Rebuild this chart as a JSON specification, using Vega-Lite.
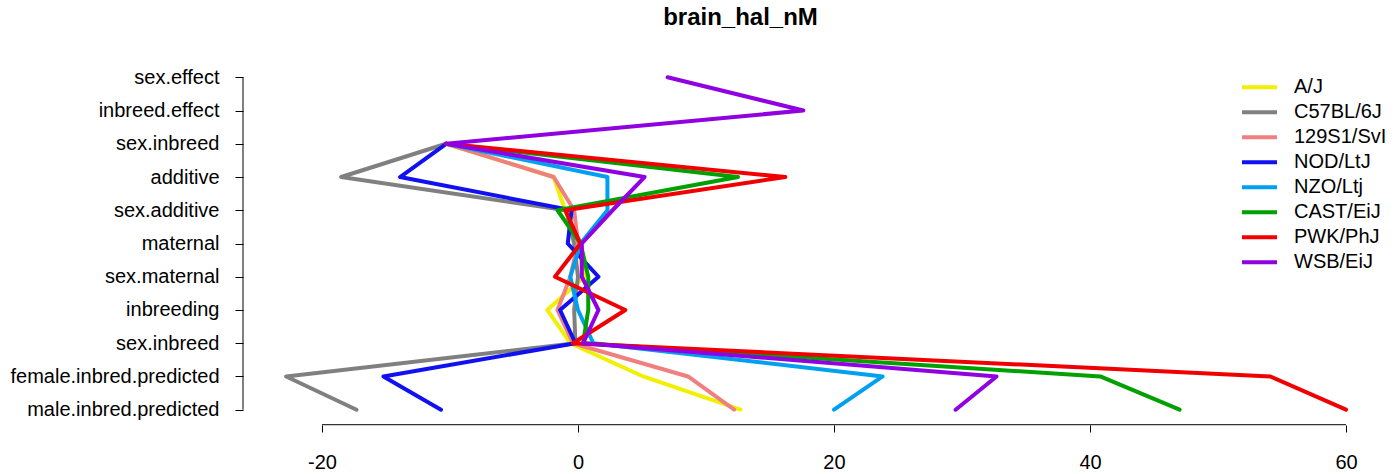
{
  "$schema": "https://vega.github.io/schema/vega-lite/v6.json",
  "autosize": {"type": "none"},
  "padding": {"left": 243, "top": 64, "right": 7, "bottom": 51},
  "width": 1145,
  "height": 359,
  "title": {"text": "brain_hal_nM", "fontSize": 24, "fontWeight": "bold", "font": "Liberation Sans", "color": "black", "baseline": "alphabetic", "offset": 15, "dx": -75},
  "config": {
    "font": "Liberation Sans",
    "view": {"stroke": null},
    "legend": {"orient": "none", "legendX": 997, "legendY": 11}
  },
  "datasets": {
    "effects": [
      {"strain": "A/J", "term": "sex.inbreed", "value": -10.3},
      {"strain": "A/J", "term": "additive", "value": -1.9},
      {"strain": "A/J", "term": "sex.additive", "value": -1.0},
      {"strain": "A/J", "term": "maternal", "value": 0.0},
      {"strain": "A/J", "term": "sex.maternal", "value": 0.5},
      {"strain": "A/J", "term": "inbreeding", "value": -2.4},
      {"strain": "A/J", "term": "sex.inbreed ", "value": -0.6},
      {"strain": "A/J", "term": "female.inbred.predicted", "value": 5.1},
      {"strain": "A/J", "term": "male.inbred.predicted", "value": 12.7},
      {"strain": "C57BL/6J", "term": "sex.inbreed", "value": -10.3},
      {"strain": "C57BL/6J", "term": "additive", "value": -18.5},
      {"strain": "C57BL/6J", "term": "sex.additive", "value": -0.9},
      {"strain": "C57BL/6J", "term": "maternal", "value": -0.3},
      {"strain": "C57BL/6J", "term": "sex.maternal", "value": 0.0},
      {"strain": "C57BL/6J", "term": "inbreeding", "value": -0.3},
      {"strain": "C57BL/6J", "term": "sex.inbreed ", "value": -0.2},
      {"strain": "C57BL/6J", "term": "female.inbred.predicted", "value": -22.8},
      {"strain": "C57BL/6J", "term": "male.inbred.predicted", "value": -17.3},
      {"strain": "129S1/SvI", "term": "sex.inbreed", "value": -10.3},
      {"strain": "129S1/SvI", "term": "additive", "value": -1.9},
      {"strain": "129S1/SvI", "term": "sex.additive", "value": -0.3},
      {"strain": "129S1/SvI", "term": "maternal", "value": 0.0},
      {"strain": "129S1/SvI", "term": "sex.maternal", "value": -0.6},
      {"strain": "129S1/SvI", "term": "inbreeding", "value": -1.6},
      {"strain": "129S1/SvI", "term": "sex.inbreed ", "value": -0.4},
      {"strain": "129S1/SvI", "term": "female.inbred.predicted", "value": 8.6},
      {"strain": "129S1/SvI", "term": "male.inbred.predicted", "value": 12.2},
      {"strain": "NOD/LtJ", "term": "sex.inbreed", "value": -10.3},
      {"strain": "NOD/LtJ", "term": "additive", "value": -13.9},
      {"strain": "NOD/LtJ", "term": "sex.additive", "value": -0.5},
      {"strain": "NOD/LtJ", "term": "maternal", "value": -0.8},
      {"strain": "NOD/LtJ", "term": "sex.maternal", "value": 1.6},
      {"strain": "NOD/LtJ", "term": "inbreeding", "value": -1.4},
      {"strain": "NOD/LtJ", "term": "sex.inbreed ", "value": -0.2},
      {"strain": "NOD/LtJ", "term": "female.inbred.predicted", "value": -15.2},
      {"strain": "NOD/LtJ", "term": "male.inbred.predicted", "value": -10.7},
      {"strain": "NZO/Ltj", "term": "sex.inbreed", "value": -10.3},
      {"strain": "NZO/Ltj", "term": "additive", "value": 2.3},
      {"strain": "NZO/Ltj", "term": "sex.additive", "value": 2.3},
      {"strain": "NZO/Ltj", "term": "maternal", "value": 0.2},
      {"strain": "NZO/Ltj", "term": "sex.maternal", "value": -0.6},
      {"strain": "NZO/Ltj", "term": "inbreeding", "value": 0.0},
      {"strain": "NZO/Ltj", "term": "sex.inbreed ", "value": 1.2},
      {"strain": "NZO/Ltj", "term": "female.inbred.predicted", "value": 23.8},
      {"strain": "NZO/Ltj", "term": "male.inbred.predicted", "value": 20.0},
      {"strain": "CAST/EiJ", "term": "sex.inbreed", "value": -10.3},
      {"strain": "CAST/EiJ", "term": "additive", "value": 12.5},
      {"strain": "CAST/EiJ", "term": "sex.additive", "value": -1.6},
      {"strain": "CAST/EiJ", "term": "maternal", "value": 0.2},
      {"strain": "CAST/EiJ", "term": "sex.maternal", "value": 0.8},
      {"strain": "CAST/EiJ", "term": "inbreeding", "value": 0.8},
      {"strain": "CAST/EiJ", "term": "sex.inbreed ", "value": 0.4},
      {"strain": "CAST/EiJ", "term": "female.inbred.predicted", "value": 40.8},
      {"strain": "CAST/EiJ", "term": "male.inbred.predicted", "value": 47.0},
      {"strain": "PWK/PhJ", "term": "sex.inbreed", "value": -10.3},
      {"strain": "PWK/PhJ", "term": "additive", "value": 16.2},
      {"strain": "PWK/PhJ", "term": "sex.additive", "value": -1.0},
      {"strain": "PWK/PhJ", "term": "maternal", "value": 0.2},
      {"strain": "PWK/PhJ", "term": "sex.maternal", "value": -1.8},
      {"strain": "PWK/PhJ", "term": "inbreeding", "value": 3.7},
      {"strain": "PWK/PhJ", "term": "sex.inbreed ", "value": -0.4},
      {"strain": "PWK/PhJ", "term": "female.inbred.predicted", "value": 54.1},
      {"strain": "PWK/PhJ", "term": "male.inbred.predicted", "value": 60.0},
      {"strain": "WSB/EiJ", "term": "sex.effect", "value": 7.0},
      {"strain": "WSB/EiJ", "term": "inbreed.effect", "value": 17.6},
      {"strain": "WSB/EiJ", "term": "sex.inbreed", "value": -10.3},
      {"strain": "WSB/EiJ", "term": "additive", "value": 5.2},
      {"strain": "WSB/EiJ", "term": "sex.additive", "value": 2.7},
      {"strain": "WSB/EiJ", "term": "maternal", "value": 0.3},
      {"strain": "WSB/EiJ", "term": "sex.maternal", "value": 0.3},
      {"strain": "WSB/EiJ", "term": "inbreeding", "value": 1.6},
      {"strain": "WSB/EiJ", "term": "sex.inbreed ", "value": 0.4},
      {"strain": "WSB/EiJ", "term": "female.inbred.predicted", "value": 32.7},
      {"strain": "WSB/EiJ", "term": "male.inbred.predicted", "value": 29.5}
    ]
  },
  "layer": [
    {
      "data": {"name": "effects"},
      "mark": {"type": "line", "strokeWidth": 4, "strokeCap": "round", "strokeJoin": "round"},
      "encoding": {
        "x": {
          "field": "value", "type": "quantitative",
          "scale": {"domain": [-26.17, 63.28], "nice": false, "zero": false},
          "axis": {"values": [-20, 0, 20, 40, 60], "domain": false, "grid": false, "title": null, "tickSize": 7, "tickColor": "black", "offset": 2, "labelFontSize": 20, "labelColor": "black", "labelPadding": 20, "labelFont": "Liberation Sans", "labelExpr": "datum.value < 0 ? '-' + abs(datum.value) : '' + datum.value"}
        },
        "y": {
          "field": "term", "type": "ordinal",
          "scale": {"type": "point", "padding": 0.4, "domain": ["sex.effect", "inbreed.effect", "sex.inbreed", "additive", "sex.additive", "maternal", "sex.maternal", "inbreeding", "sex.inbreed ", "female.inbred.predicted", "male.inbred.predicted"]},
          "axis": {"domain": false, "grid": false, "title": null, "tickSize": 8, "tickColor": "black", "labelFontSize": 20, "labelColor": "black", "labelPadding": 16, "labelLimit": 0, "labelExpr": "trim(datum.label)", "labelFont": "Liberation Sans"}
        },
        "color": {
          "field": "strain", "type": "nominal",
          "scale": {"domain": ["A/J", "C57BL/6J", "129S1/SvI", "NOD/LtJ", "NZO/Ltj", "CAST/EiJ", "PWK/PhJ", "WSB/EiJ"], "range": ["#F0F000", "#808080", "#F08080", "#1010F0", "#00A0F0", "#00A000", "#F00000", "#9000E0"]},
          "legend": {"title": null, "symbolType": "stroke", "symbolSize": 1225, "symbolStrokeWidth": 4, "labelFontSize": 20, "labelColor": "black", "labelOffset": 15, "clipHeight": 24.4, "rowPadding": 0, "padding": 0, "labelFont": "Liberation Sans"}
        },
        "order": {"value": null}
      }
    },
    {
      "data": {"values": [{}]},
      "mark": {"type": "rule", "color": "black", "strokeWidth": 1},
      "encoding": {
        "x": {"datum": -26.17, "type": "quantitative"},
        "y": {"datum": "sex.effect", "type": "ordinal"},
        "y2": {"datum": "male.inbred.predicted"}
      }
    },
    {
      "data": {"values": [{}]},
      "mark": {"type": "rule", "color": "black", "strokeWidth": 1, "yOffset": 15},
      "encoding": {
        "x": {"datum": -20, "type": "quantitative"},
        "x2": {"datum": 60},
        "y": {"datum": "male.inbred.predicted", "type": "ordinal"}
      }
    }
  ]
}
